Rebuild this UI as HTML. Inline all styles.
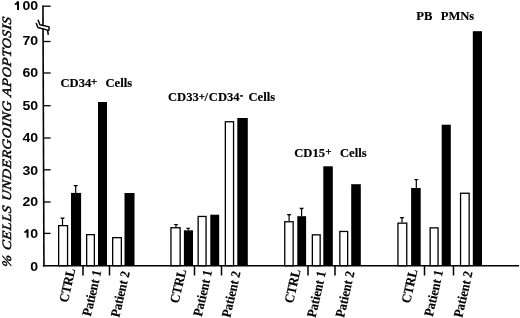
<!DOCTYPE html>
<html><head><meta charset="utf-8"><style>
html,body{margin:0;padding:0;background:#fff;}
svg{display:block;will-change:transform;}
.ax{font-family:"Liberation Sans",sans-serif;font-weight:bold;font-size:13.2px;}
.one{fill:none;}
.lb{font-family:"Liberation Serif",serif;font-weight:bold;font-size:13.2px;stroke:#000;stroke-width:0.15px;}
.sup{font-family:"Liberation Serif",serif;font-weight:bold;font-size:10px;stroke:#000;stroke-width:0.35px;}
.sup11{font-family:"Liberation Serif",serif;font-weight:bold;font-size:11px;stroke:#000;stroke-width:0.35px;}
.sup105{font-family:"Liberation Serif",serif;font-weight:bold;font-size:10.5px;stroke:#000;stroke-width:0.35px;}
.cat{font-family:"Liberation Serif",serif;font-weight:bold;font-style:normal;font-size:13.4px;stroke:#000;stroke-width:0.15px;}
.yl{font-family:"Liberation Serif",serif;font-style:italic;font-size:14.5px;stroke:#000;stroke-width:0.5px;}
</style></head><body>
<svg width="520" height="318" viewBox="0 0 520 318">
<rect width="520" height="318" fill="#fff"/>

<g stroke="#000" stroke-width="1.5" fill="none">
<line x1="42.95" y1="5.5" x2="43.95" y2="266.5" stroke-width="1.6"/>
<line x1="42.8" y1="265.7" x2="519" y2="265.7" stroke-width="1.6"/>
<line x1="43.82" y1="233.4" x2="50.6" y2="233.4" stroke-width="1.3"/>
<line x1="43.70" y1="202" x2="50.6" y2="202" stroke-width="1.3"/>
<line x1="43.58" y1="169.8" x2="50.6" y2="169.8" stroke-width="1.3"/>
<line x1="43.46" y1="138" x2="50.6" y2="138" stroke-width="1.3"/>
<line x1="43.33" y1="105.7" x2="50.6" y2="105.7" stroke-width="1.3"/>
<line x1="43.21" y1="73" x2="50.6" y2="73" stroke-width="1.3"/>
<line x1="43.09" y1="41.5" x2="50.6" y2="41.5" stroke-width="1.3"/>
<line x1="42.95" y1="6.2" x2="50.6" y2="6.2" stroke-width="1.3"/>
<line x1="83" y1="265.7" x2="83" y2="275.5"/>
<line x1="109.5" y1="265.7" x2="109.5" y2="275.5"/>
<line x1="194.5" y1="265.7" x2="194.5" y2="275.5"/>
<line x1="221.5" y1="265.7" x2="221.5" y2="275.5"/>
<line x1="308" y1="265.7" x2="308" y2="275.5"/>
<line x1="335" y1="265.7" x2="335" y2="275.5"/>
<line x1="424.5" y1="265.7" x2="424.5" y2="275.5"/>
<line x1="453.5" y1="265.7" x2="453.5" y2="275.5"/>
</g>
<path d="M39.6,25.2 L48.8,27.6 L47.6,29.6 L38.2,27.2Z" fill="#fff"/>
<path d="M38.2,20.3 L39.9,24.7 L49.1,26.9 L48.9,30.2 M36.3,23.4 L37.9,27.5 L47.6,30.1 L48.2,34.4" fill="none" stroke="#000" stroke-width="1.45" stroke-linejoin="round" stroke-linecap="round"/>
<g stroke="#000" stroke-width="1.3">
<line x1="62.50" y1="218.4" x2="62.50" y2="225" stroke-width="1.2"/>
<path d="M60.10,217.60 L64.90,217.60 L63.70,219.00 L61.30,219.00Z" fill="#000" stroke="none"/>
<rect x="58.65" y="225.65" width="8.90" height="40.05" fill="#fff"/>
<line x1="75.70" y1="185.8" x2="75.70" y2="192.9" stroke-width="1.2"/>
<path d="M73.30,185.00 L78.10,185.00 L76.90,186.40 L74.50,186.40Z" fill="#000" stroke="none"/>
<rect x="71" y="192.9" width="10.10" height="72.80" fill="#000" stroke="none"/>
<rect x="86.65" y="234.65" width="7.70" height="31.05" fill="#fff"/>
<rect x="98" y="102" width="9.00" height="163.70" fill="#000" stroke="none"/>
<rect x="112.65" y="237.65" width="8.70" height="28.05" fill="#fff"/>
<rect x="124.5" y="193" width="10.00" height="72.70" fill="#000" stroke="none"/>
<line x1="176.00" y1="224.7" x2="176.00" y2="227.1" stroke-width="1.2"/>
<path d="M173.60,223.90 L178.40,223.90 L177.20,225.30 L174.80,225.30Z" fill="#000" stroke="none"/>
<rect x="170.95" y="227.75" width="9.20" height="37.95" fill="#fff"/>
<line x1="188.20" y1="228.5" x2="188.20" y2="230.3" stroke-width="1.2"/>
<path d="M185.80,227.70 L190.60,227.70 L189.40,229.10 L187.00,229.10Z" fill="#000" stroke="none"/>
<rect x="183.9" y="230.3" width="9.10" height="35.40" fill="#000" stroke="none"/>
<rect x="198.15" y="216.45" width="7.90" height="49.25" fill="#fff"/>
<rect x="210.3" y="214.7" width="8.90" height="51.00" fill="#000" stroke="none"/>
<rect x="225.35" y="121.75" width="8.20" height="143.95" fill="#fff"/>
<rect x="237.3" y="118" width="10.50" height="147.70" fill="#000" stroke="none"/>
<line x1="289.10" y1="214.8" x2="289.10" y2="221.1" stroke-width="1.2"/>
<path d="M286.70,214.00 L291.50,214.00 L290.30,215.40 L287.90,215.40Z" fill="#000" stroke="none"/>
<rect x="284.75" y="221.75" width="8.40" height="43.95" fill="#fff"/>
<line x1="301.60" y1="208.6" x2="301.60" y2="216.2" stroke-width="1.2"/>
<path d="M299.20,207.80 L304.00,207.80 L302.80,209.20 L300.40,209.20Z" fill="#000" stroke="none"/>
<rect x="297.3" y="216.2" width="8.80" height="49.50" fill="#000" stroke="none"/>
<rect x="312.35" y="234.85" width="7.80" height="30.85" fill="#fff"/>
<rect x="323.3" y="166.3" width="9.50" height="99.40" fill="#000" stroke="none"/>
<rect x="339.85" y="231.45" width="7.80" height="34.25" fill="#fff"/>
<rect x="351.2" y="184.2" width="9.60" height="81.50" fill="#000" stroke="none"/>
<line x1="402.00" y1="217.9" x2="402.00" y2="222.5" stroke-width="1.2"/>
<path d="M399.60,217.10 L404.40,217.10 L403.20,218.50 L400.80,218.50Z" fill="#000" stroke="none"/>
<rect x="397.95" y="223.15" width="8.80" height="42.55" fill="#fff"/>
<line x1="416.30" y1="179.7" x2="416.30" y2="188" stroke-width="1.2"/>
<path d="M413.90,178.90 L418.70,178.90 L417.50,180.30 L415.10,180.30Z" fill="#000" stroke="none"/>
<rect x="411.1" y="188" width="9.60" height="77.70" fill="#000" stroke="none"/>
<rect x="430.15" y="227.85" width="7.90" height="37.85" fill="#fff"/>
<rect x="441.7" y="124.7" width="9.10" height="141.00" fill="#000" stroke="none"/>
<rect x="460.55" y="193.25" width="8.60" height="72.45" fill="#fff"/>
<rect x="472.8" y="31.2" width="9.20" height="234.50" fill="#000" stroke="none"/>
</g>
<g class="ax" text-anchor="end">
<text transform="translate(38.1,271.2) scale(1.07,1)">0</text>
<text transform="translate(38.1,237.8) scale(1.07,1)"><tspan class="one">1</tspan>0</text>
<text transform="translate(38.1,205.7) scale(1.07,1)">20</text>
<text transform="translate(38.1,175.4) scale(1.07,1)">30</text>
<text transform="translate(38.1,141.7) scale(1.07,1)">40</text>
<text transform="translate(38.1,110.3) scale(1.07,1)">50</text>
<text transform="translate(38.1,76.6) scale(1.07,1)">60</text>
<text transform="translate(38.1,44.7) scale(1.07,1)">70</text>
<text transform="translate(38.1,10.4) scale(1.07,1)"><tspan class="one">1</tspan>00</text>
</g>
<path d="M17.05,1.30 L19.00,1.30 L19.00,10.10 L17.05,10.10 L17.05,4.50 Q16.00,4.80 14.70,4.90 L14.70,3.50 Q16.40,3.20 17.05,1.30Z" fill="#000"/>
<path d="M26.55,229.20 L28.50,229.20 L28.50,237.70 L26.55,237.70 L26.55,232.40 Q25.50,232.70 24.20,232.80 L24.20,231.40 Q25.90,231.10 26.55,229.20Z" fill="#000"/>
<g>
</g>
<text class="yl" transform="translate(10.9,267.4) rotate(-90) scale(1,0.88) skewX(-7)" textLength="250" lengthAdjust="spacing">% CELLS UNDERGOING APOPTOSIS</text>
<text class="lb" transform="translate(60.5,87.39999999999999) scale(0.955,1)">CD34</text>
<text class="sup11" x="91" y="84.9">+</text>
<text class="lb" transform="translate(105.5,87.39999999999999) scale(0.955,1)">Cells</text>
<text class="lb" transform="translate(168,101.39999999999999) scale(0.955,1)">CD33</text>
<text class="sup" x="199" y="100">+</text>
<text class="lb" transform="translate(204.5,101.39999999999999) scale(0.955,1)">/</text>
<text class="lb" transform="translate(208.8,101.1) scale(0.955,1)">CD34</text>
<rect x="240.2" y="95.1" width="2.6" height="1.6" fill="#000"/>
<text class="lb" transform="translate(248.5,101.39999999999999) scale(0.955,1)">Cells</text>
<text class="lb" transform="translate(294.2,157.0) scale(0.955,1)">CD15</text>
<text class="sup105" x="325.5" y="155.4">+</text>
<text class="lb" transform="translate(340,157.0) scale(0.955,1)">Cells</text>
<text class="lb" transform="translate(416.3,20.400000000000002) scale(0.955,1)">PB</text>
<text class="lb" transform="translate(440.7,20.400000000000002) scale(0.955,1)">PMNs</text>
<text class="cat" text-anchor="end" transform="translate(75.4,269.6) rotate(-77.0) scale(0.92,1)">CTRL</text>
<text class="cat" text-anchor="end" transform="translate(101.4,271.2) rotate(-77.0) scale(0.92,1)">Patient 1</text>
<text class="cat" text-anchor="end" transform="translate(129.8,272.2) rotate(-77.0) scale(0.92,1)">Patient 2</text>
<text class="cat" text-anchor="end" transform="translate(186.3,270.3) rotate(-77.0) scale(0.92,1)">CTRL</text>
<text class="cat" text-anchor="end" transform="translate(212.2,271.3) rotate(-77.0) scale(0.92,1)">Patient 1</text>
<text class="cat" text-anchor="end" transform="translate(240.7,272.3) rotate(-77.0) scale(0.92,1)">Patient 2</text>
<text class="cat" text-anchor="end" transform="translate(300.6,270.3) rotate(-77.0) scale(0.92,1)">CTRL</text>
<text class="cat" text-anchor="end" transform="translate(326,272.3) rotate(-77.0) scale(0.92,1)">Patient 1</text>
<text class="cat" text-anchor="end" transform="translate(354.6,272.3) rotate(-77.0) scale(0.92,1)">Patient 2</text>
<text class="cat" text-anchor="end" transform="translate(417.7,270.3) rotate(-77.0) scale(0.92,1)">CTRL</text>
<text class="cat" text-anchor="end" transform="translate(443.2,271.3) rotate(-77.0) scale(0.92,1)">Patient 1</text>
<text class="cat" text-anchor="end" transform="translate(472.7,272.3) rotate(-77.0) scale(0.92,1)">Patient 2</text>
</svg></body></html>
